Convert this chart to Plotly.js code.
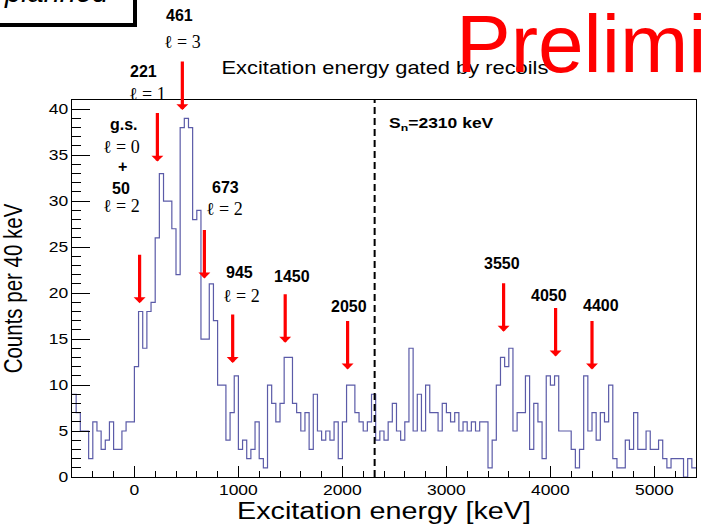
<!DOCTYPE html>
<html>
<head>
<meta charset="utf-8">
<script src="https://cdn.plot.ly/plotly-3.0.1.min.js"></script>
<style>
  html, body { margin: 0; padding: 0; background: #ffffff; }
  #chart { width: 702px; height: 526px; }
</style>
</head>
<body>
<div id="chart"></div>
<script>
// Histogram binning (keV)
const binStart = -600;
const binWidth = 40;

// Counts per 40 keV bin, starting at -600 keV
const counts = [
  9, 7, 5, 5, 2, 6, 5, 3, 4, 6,
  3, 3, 5, 6, 6, 12, 18, 14, 18, 19,
  26, 33, 30, 30, 27, 22, 38, 39, 38, 28,
  29, 15, 15, 21, 17, 10, 10, 4, 7, 11,
  3, 4, 2, 3, 6, 2, 1, 10, 8, 6,
  8, 13, 13, 8, 7, 5, 7, 3, 9, 5,
  4, 5, 4, 6, 2, 6, 10, 10, 7, 6,
  5, 6, 9, 4, 5, 4, 6, 8, 5, 4,
  6, 14, 5, 9, 5, 10, 7, 7, 5, 8,
  7, 6, 7, 5, 6, 5, 6, 5, 6, 6,
  1, 4, 10, 13, 12, 14, 5, 7, 7, 11,
  3, 8, 6, 2, 11, 10, 11, 5, 5, 5,
  3, 1, 3, 11, 5, 7, 4, 7, 6, 10,
  2, 1, 1, 4, 3, 7, 3, 3, 5, 3,
  3, 4, 2, 1, 2, 2, 2, 0, 2, 1
];

const xTickValues = [0, 1000, 2000, 3000, 4000, 5000];
const yTickValues = [0, 5, 10, 15, 20, 25, 30, 35, 40];

// Neutron separation energy (keV)
const separationEnergy = 2310;

// Marked levels (keV), arrow tip heights (counts) and orbital angular momenta
const levelEnergies = [50, 221, 461, 673, 945, 1450, 2050, 3550, 4050, 4400];
const arrowTipCounts = [18.9, 34.3, 39.9, 21.6, 12.4, 14.6, 11.7, 15.8, 13.1, 11.7];
const levelL = [2, 1, 3, 2, 2];
const groundStateL = 0;

// ---- layout geometry (pixels) ----
const W = 702, H = 526;
const PL = 72, PR = 6, PT = 100, PB = 49;
const PW = W - PL - PR, PH = H - PT - PB;
const px2x = px => (px - PL) / PW;
const py2y = py => (PT + PH - py) / PH;

const SANS = 'Liberation Sans, Arial, Helvetica, sans-serif';
const SERIF = 'Liberation Serif, DejaVu Serif, Times New Roman, serif';

// label centres in pixels for the energy numbers and the l values
const energyLabelPos = [[121, 188], [143, 71], [179, 15], [225, 187], [239, 272],
                        [292, 276], [349, 306], [502, 263], [549, 295], [601, 305]];
const lLabelPos = [[121, 206], [147, 94], [182, 42], [224, 209], [242, 296]];

// histogram outline as a step line over the bin edges
const edges = counts.map((_, i) => binStart + i * binWidth)
  .concat([binStart + counts.length * binWidth]);
const stepCounts = counts.concat([counts[counts.length - 1]]);

const traces = [{
  type: 'scatter',
  mode: 'lines',
  x: edges,
  y: stepCounts,
  line: { shape: 'hv', color: '#5b5ba8', width: 1.2 },
  hoverinfo: 'skip',
  showlegend: false
}];

const annotations = [];

// S_n label
const SN_INDEX = annotations.length;
annotations.push({
  xref: 'paper', yref: 'paper', x: px2x(387), y: py2y(124),
  xanchor: 'left', yanchor: 'middle', showarrow: false,
  text: '<b>S<sub>n</sub>=' + separationEnergy + ' keV</b>',
  font: { family: SANS, size: 14, color: '#000000' }
});

// red arrows pointing at the levels
levelEnergies.forEach((e, i) => {
  annotations.push({
    xref: 'x', yref: 'y', x: e, y: arrowTipCounts[i],
    ax: 0, ay: -50, text: '', showarrow: true,
    arrowhead: 1, arrowsize: 0.62, arrowwidth: 3.2, arrowcolor: '#ff0000', standoff: 0
  });
});

// energy numbers
levelEnergies.forEach((e, i) => {
  annotations.push({
    xref: 'paper', yref: 'paper', x: px2x(energyLabelPos[i][0]), y: py2y(energyLabelPos[i][1]),
    xanchor: 'center', yanchor: 'middle', showarrow: false,
    text: '<b>' + e + '</b>',
    font: { family: SANS, size: 16, color: '#000000' }
  });
});

// l values
levelL.forEach((l, i) => {
  annotations.push({
    xref: 'paper', yref: 'paper', x: px2x(lLabelPos[i][0]), y: py2y(lLabelPos[i][1]),
    xanchor: 'center', yanchor: 'middle', showarrow: false,
    text: '\u2113 = ' + l,
    font: { family: SERIF, size: 18, color: '#000000' }
  });
});

// ground state block: "g.s.", l = 0, "+"
annotations.push({
  xref: 'paper', yref: 'paper', x: px2x(124), y: py2y(124),
  xanchor: 'center', yanchor: 'middle', showarrow: false,
  text: '<b>g.s.</b>', font: { family: SANS, size: 16, color: '#000000' }
});
annotations.push({
  xref: 'paper', yref: 'paper', x: px2x(121), y: py2y(147),
  xanchor: 'center', yanchor: 'middle', showarrow: false,
  text: '\u2113 = ' + groundStateL, font: { family: SERIF, size: 18, color: '#000000' }
});
annotations.push({
  xref: 'paper', yref: 'paper', x: px2x(122), y: py2y(166),
  xanchor: 'center', yanchor: 'middle', showarrow: false,
  text: '<b>+</b>', font: { family: SANS, size: 16, color: '#000000' }
});

// overlay stamp text
annotations.push({
  xref: 'paper', yref: 'paper', x: px2x(454), y: py2y(44),
  xanchor: 'left', yanchor: 'middle', showarrow: false,
  text: 'Preliminary', font: { family: SANS, size: 82, color: '#ff0000' }
});
annotations.push({
  xref: 'paper', yref: 'paper', x: px2x(2), y: py2y(-8),
  xanchor: 'left', yanchor: 'middle', showarrow: false,
  text: 'planned', font: { family: SANS, size: 29, color: '#000000', style: 'italic' }
});

const shapes = [
  {
    type: 'line', xref: 'x', yref: 'paper',
    x0: separationEnergy, x1: separationEnergy, y0: 0, y1: 1,
    line: { color: '#000000', width: 2, dash: '7px,4px' }
  },
  {
    type: 'rect', xref: 'paper', yref: 'paper',
    x0: px2x(-10), x1: px2x(135), y0: py2y(25), y1: py2y(-10),
    line: { color: '#000000', width: 4 }, fillcolor: 'rgba(0,0,0,0)', layer: 'above'
  }
];

const layout = {
  width: W, height: H,
  margin: { l: PL, r: PR, t: PT, b: PB, pad: 0 },
  paper_bgcolor: '#ffffff', plot_bgcolor: '#ffffff',
  showlegend: false,
  title: {
    text: 'Excitation energy gated by recoils',
    font: { family: SANS, size: 17.5, color: '#000000' },
    xref: 'container', yref: 'container',
    x: 385 / W, xanchor: 'center', y: 1 - 68 / H, yanchor: 'middle'
  },
  xaxis: {
    range: [binStart, binStart + counts.length * binWidth],
    tickmode: 'array', tickvals: xTickValues, ticktext: xTickValues.map(String),
    ticks: 'inside', ticklen: 11, tickwidth: 1, tickcolor: '#000000',
    minor: { dtick: 200, tick0: 0, ticks: 'inside', ticklen: 6, tickwidth: 1, tickcolor: '#000000', showgrid: false },
    showline: true, linecolor: '#000000', linewidth: 1, mirror: true,
    showgrid: false, zeroline: false,
    tickfont: { family: SANS, size: 14, color: '#000000' },
    title: { text: 'Excitation energy [keV]', font: { family: SANS, size: 23, color: '#000000' }, standoff: 6 }
  },
  yaxis: {
    range: [0, 41],
    tickmode: 'array', tickvals: yTickValues, ticktext: yTickValues.map(String),
    ticks: 'inside', ticklen: 18, tickwidth: 1, tickcolor: '#000000',
    minor: { dtick: 1, tick0: 0, ticks: 'inside', ticklen: 9, tickwidth: 1, tickcolor: '#000000', showgrid: false },
    showline: true, linecolor: '#000000', linewidth: 1, mirror: true,
    showgrid: false, zeroline: false,
    tickfont: { family: SANS, size: 14, color: '#000000' },
    title: { text: 'Counts per 40 keV', font: { family: SANS, size: 20.5, color: '#000000' }, standoff: 24 }
  },
  annotations: annotations,
  shapes: shapes
};

// widen the axis text horizontally (figure text is drawn 25% wider than tall)
const STRETCH = 1.25;
function widen(el, mode) {
  const b = el.getBBox();
  const p = mode === 'start' ? b.x : (mode === 'end' ? b.x + b.width : b.x + b.width / 2);
  const t = el.getAttribute('transform') || '';
  el.setAttribute('transform', t + ' translate(' + p + ',0) scale(' + STRETCH + ',1) translate(' + (-p) + ',0)');
}

Plotly.newPlot('chart', traces, layout, { staticPlot: true, displayModeBar: false }).then(gd => {
  gd.querySelectorAll('g.xtick text').forEach(el => widen(el, 'middle'));
  gd.querySelectorAll('g.ytick text').forEach(el => widen(el, 'end'));
  gd.querySelectorAll('text.gtitle').forEach(el => widen(el, 'middle'));
  gd.querySelectorAll('text.xtitle').forEach(el => widen(el, 'middle'));
  gd.querySelectorAll('g.annotation[data-index="' + SN_INDEX + '"] text').forEach(el => widen(el, 'start'));
  gd.querySelectorAll('text.ytitle').forEach(el => {
    const X = parseFloat(el.getAttribute('x'));
    const t = el.getAttribute('transform') || '';
    el.setAttribute('transform', 'translate(' + X + ',0) scale(' + STRETCH + ',1) translate(' + (-X) + ',0) ' + t);
  });
});
</script>
</body>
</html>
